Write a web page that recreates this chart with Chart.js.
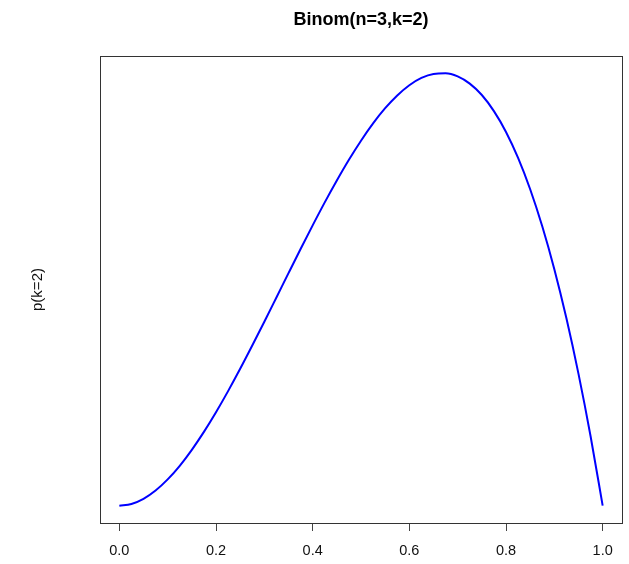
<!DOCTYPE html>
<html>
<head>
<meta charset="utf-8">
<script src="https://cdn.jsdelivr.net/npm/chart.js@4"></script>
<style>
html,body{margin:0;padding:0;background:#fff;}
#wrap{width:629px;height:564px;}
</style>
</head>
<body>
<div id="wrap"><canvas id="c" width="629" height="564"></canvas></div>
<script>
const chartTitle = "Binom(n=3,k=2)";
const yLabel = "p(k=2)";
const pValues = [0.000,0.025,0.050,0.075,0.100,0.125,0.150,0.175,0.200,0.225,0.250,0.275,0.300,0.325,0.350,0.375,0.400,0.425,0.450,0.475,0.500,0.525,0.550,0.575,0.600,0.625,0.650,0.675,0.700,0.725,0.750,0.775,0.800,0.825,0.850,0.875,0.900,0.925,0.950,0.975,1.000];
const likValues = [0.0000,0.0018,0.0071,0.0156,0.0270,0.0410,0.0574,0.0758,0.0960,0.1177,0.1406,0.1645,0.1890,0.2139,0.2389,0.2637,0.2880,0.3116,0.3341,0.3554,0.3750,0.3928,0.4084,0.4215,0.4320,0.4395,0.4436,0.4442,0.4410,0.4336,0.4219,0.4054,0.3840,0.3573,0.3251,0.2871,0.2430,0.1925,0.1354,0.0713,0.0000];
const xTicks = [0.0,0.2,0.4,0.6,0.8,1.0];

const yMin = -0.0178, yMax = 0.462;

const boxPlugin = {
  id: 'box',
  afterDraw(chart) {
    const a = chart.chartArea, ctx = chart.ctx;
    ctx.save();
    ctx.strokeStyle = '#333';
    ctx.lineWidth = 1;
    ctx.strokeRect(Math.round(a.left)+0.5, Math.round(a.top)+0.5, Math.round(a.right-a.left), Math.round(a.bottom-a.top));
    ctx.restore();
  }
};

new Chart(document.getElementById('c'), {
  type: 'line',
  data: {
    datasets: [{
      data: pValues.map((p, i) => ({x: p, y: likValues[i]})),
      borderColor: '#0000ff',
      borderWidth: 2,
      pointRadius: 0,
      fill: false,
      cubicInterpolationMode: 'monotone'
    }]
  },
  options: {
    responsive: false,
    animation: false,
    layout: {padding: {left: 0, right: 7, top: 0, bottom: 0}},
    plugins: {
      legend: {display: false},
      tooltip: {enabled: false},
      title: {
        display: true,
        fullSize: false,
        text: chartTitle,
        color: '#000',
        font: {family: 'Liberation Sans, Arial', size: 18, weight: 'bold'},
        padding: {top: 9.2, bottom: 25.2}
      }
    },
    scales: {
      x: {
        type: 'linear',
        min: -0.04, max: 1.04,
        afterBuildTicks(scale) { scale.ticks = xTicks.map(v => ({value: v})); },
        afterFit(scale) { scale.height = 41; },
        grid: {drawOnChartArea: false, drawTicks: true, tickLength: 8, color: '#444'},
        border: {display: false},
        ticks: {
          color: '#111',
          padding: 11,
          font: {family: 'Liberation Sans, Arial', size: 14.5},
          maxRotation: 0,
          callback: v => Number(v).toFixed(1)
        }
      },
      y: {
        min: yMin, max: yMax,
        afterFit(scale) { scale.width = 100; },
        grid: {display: false},
        border: {display: false},
        ticks: {display: false},
        title: {
          display: true,
          text: yLabel,
          color: '#111',
          font: {family: 'Liberation Sans, Arial', size: 15},
          padding: {top: 28.5, bottom: 0}
        }
      }
    }
  },
  plugins: [boxPlugin]
});
</script>
</body>
</html>
